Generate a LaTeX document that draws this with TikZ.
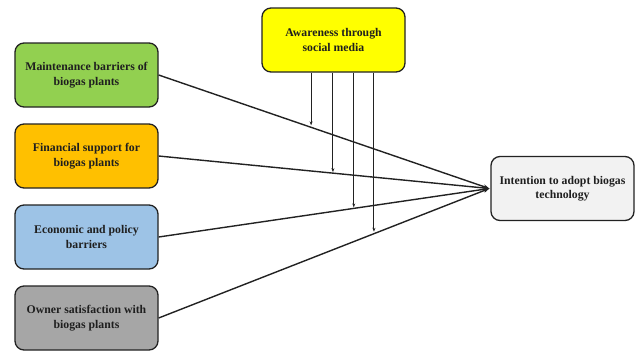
\documentclass[tikz,border=0pt]{standalone}
\usepackage{fontspec}
\setmainfont{Liberation Serif}
\usetikzlibrary{arrows.meta,calc}
\definecolor{cgreen}{HTML}{92D050}
\definecolor{corange}{HTML}{FFC000}
\definecolor{cblue}{HTML}{9DC3E6}
\definecolor{cgray}{HTML}{A6A6A6}
\definecolor{cyellow}{HTML}{FFFF00}
\definecolor{clight}{HTML}{F2F2F2}
\definecolor{cline}{HTML}{222222}
\tikzset{
  box/.style={draw=cline, line width=1.3bp, rounded corners=9bp, minimum width=143bp, minimum height=64bp,
    align=center, font=\bfseries\fontsize{11.8}{14.5}\selectfont, text=black!88, inner sep=2bp},
  conn/.style={draw=cline, line width=1.4bp, -{Stealth[length=6bp,width=4.5bp]}},
  mod/.style={draw=cline, line width=1.1bp, -{Stealth[length=4bp,width=3bp]}}
}
\begin{document}
\begin{tikzpicture}[x=1bp,y=-1bp]
\useasboundingbox (0,0) rectangle (636,351);
\node[box, fill=cgreen]  (m1) at (86.5,75)  {Maintenance barriers of\\biogas plants};
\node[box, fill=corange] (m2) at (86.5,156) {Financial support for\\biogas plants};
\node[box, fill=cblue]   (m3) at (86.5,237) {Economic and policy\\barriers};
\node[box, fill=cgray]   (m4) at (86.5,318) {Owner satisfaction with\\biogas plants};
\node[box, fill=cyellow] (aw) at (333.5,40)  {Awareness through\\social media};
\node[box, fill=clight]  (t)  at (562.5,188.5) {Intention to adopt biogas\\technology};
\coordinate (tin) at ($(t.west)+(-1,0)$);
\draw[conn] (m1.east) -- (tin) coordinate[pos=0.461] (p1);
\draw[conn] (m2.east) -- (tin) coordinate[pos=0.527] (p2);
\draw[conn] (m3.east) -- (tin) coordinate[pos=0.590] (p3);
\draw[conn] (m4.east) -- (tin) coordinate[pos=0.651] (p4);
\draw[mod] (aw.south -| p1) -- ($(p1)+(0,-2)$);
\draw[mod] (aw.south -| p2) -- ($(p2)+(0,-1)$);
\draw[mod] (aw.south -| p3) -- ($(p3)+(0,-1)$);
\draw[mod] (aw.south -| p4) -- ($(p4)+(0,-2)$);
\end{tikzpicture}
\end{document}
